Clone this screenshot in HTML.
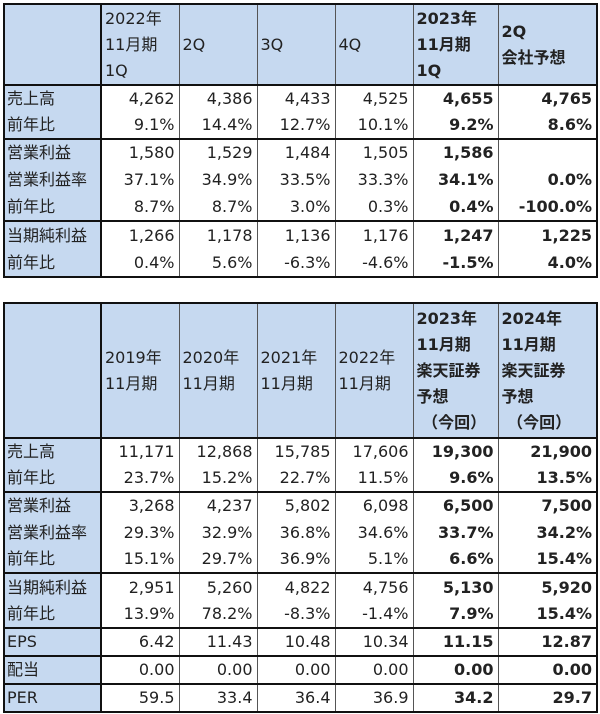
<!DOCTYPE html>
<html><head><meta charset="utf-8"><style>
body{margin:0;background:#fff;width:600px;height:714px;overflow:hidden;font-family:"DejaVu Sans","Noto Sans CJK JP",sans-serif;font-size:16px;color:#222}
table{position:absolute;left:3px;border-collapse:collapse;table-layout:fixed;width:593px}
td{padding:0 4px 0 3px;text-align:right;border-left:1px solid #555;white-space:nowrap;line-height:26px;overflow:hidden}
td:first-child{text-align:left;background:#c6d9f0;border-left:2px solid #111;border-right:2px solid #111;padding-left:2px}
td:last-child{border-right:2px solid #111}
tr.h td{background:#c6d9f0;text-align:left;vertical-align:middle;border-bottom:2px solid #111;border-top:2px solid #111}
tr.g td{border-top:2px solid #111}
tr.e td{border-bottom:2px solid #111}
.b{font-weight:bold}
</style></head><body>
<table style="top:3px">
<colgroup><col style="width:97px"><col style="width:78px"><col style="width:78px"><col style="width:78px"><col style="width:78px"><col style="width:85px"><col style="width:99px"></colgroup>
<tr class="h" style="height:81px"><td></td><td>2022年<br>11月期<br>1Q</td><td>2Q</td><td>3Q</td><td>4Q</td><td class="b">2023年<br>11月期<br>1Q</td><td class="b">2Q<br>会社予想</td></tr>
<tr style="height:27px"><td>売上高</td><td>4,262</td><td>4,386</td><td>4,433</td><td>4,525</td><td class="b">4,655</td><td class="b">4,765</td></tr>
<tr style="height:27px"><td>前年比</td><td>9.1%</td><td>14.4%</td><td>12.7%</td><td>10.1%</td><td class="b">9.2%</td><td class="b">8.6%</td></tr>
<tr class="g" style="height:27px"><td>営業利益</td><td>1,580</td><td>1,529</td><td>1,484</td><td>1,505</td><td class="b">1,586</td><td></td></tr>
<tr style="height:27px"><td>営業利益率</td><td>37.1%</td><td>34.9%</td><td>33.5%</td><td>33.3%</td><td class="b">34.1%</td><td class="b">0.0%</td></tr>
<tr style="height:28px"><td>前年比</td><td>8.7%</td><td>8.7%</td><td>3.0%</td><td>0.3%</td><td class="b">0.4%</td><td class="b">-100.0%</td></tr>
<tr class="g" style="height:28px"><td>当期純利益</td><td>1,266</td><td>1,178</td><td>1,136</td><td>1,176</td><td class="b">1,247</td><td class="b">1,225</td></tr>
<tr class="e" style="height:28px"><td>前年比</td><td>0.4%</td><td>5.6%</td><td>-6.3%</td><td>-4.6%</td><td class="b">-1.5%</td><td class="b">4.0%</td></tr>
</table>
<table style="top:302px">
<colgroup><col style="width:97px"><col style="width:78px"><col style="width:78px"><col style="width:78px"><col style="width:78px"><col style="width:85px"><col style="width:99px"></colgroup>
<tr class="h" style="height:135px"><td></td><td>2019年<br>11月期</td><td>2020年<br>11月期</td><td>2021年<br>11月期</td><td>2022年<br>11月期</td><td class="b">2023年<br>11月期<br>楽天証券<br>予想<br>&nbsp;（今回）</td><td class="b">2024年<br>11月期<br>楽天証券<br>予想<br>&nbsp;（今回）</td></tr>
<tr style="height:27px"><td>売上高</td><td>11,171</td><td>12,868</td><td>15,785</td><td>17,606</td><td class="b">19,300</td><td class="b">21,900</td></tr>
<tr style="height:27px"><td>前年比</td><td>23.7%</td><td>15.2%</td><td>22.7%</td><td>11.5%</td><td class="b">9.6%</td><td class="b">13.5%</td></tr>
<tr class="g" style="height:27px"><td>営業利益</td><td>3,268</td><td>4,237</td><td>5,802</td><td>6,098</td><td class="b">6,500</td><td class="b">7,500</td></tr>
<tr style="height:27px"><td>営業利益率</td><td>29.3%</td><td>32.9%</td><td>36.8%</td><td>34.6%</td><td class="b">33.7%</td><td class="b">34.2%</td></tr>
<tr style="height:27px"><td>前年比</td><td>15.1%</td><td>29.7%</td><td>36.9%</td><td>5.1%</td><td class="b">6.6%</td><td class="b">15.4%</td></tr>
<tr class="g" style="height:28px"><td>当期純利益</td><td>2,951</td><td>5,260</td><td>4,822</td><td>4,756</td><td class="b">5,130</td><td class="b">5,920</td></tr>
<tr style="height:27px"><td>前年比</td><td>13.9%</td><td>78.2%</td><td>-8.3%</td><td>-1.4%</td><td class="b">7.9%</td><td class="b">15.4%</td></tr>
<tr class="g" style="height:28px"><td>EPS</td><td>6.42</td><td>11.43</td><td>10.48</td><td>10.34</td><td class="b">11.15</td><td class="b">12.87</td></tr>
<tr class="g" style="height:28px"><td>配当</td><td>0.00</td><td>0.00</td><td>0.00</td><td>0.00</td><td class="b">0.00</td><td class="b">0.00</td></tr>
<tr class="g e" style="height:27px"><td>PER</td><td>59.5</td><td>33.4</td><td>36.4</td><td>36.9</td><td class="b">34.2</td><td class="b">29.7</td></tr>
</table>
</body></html>
